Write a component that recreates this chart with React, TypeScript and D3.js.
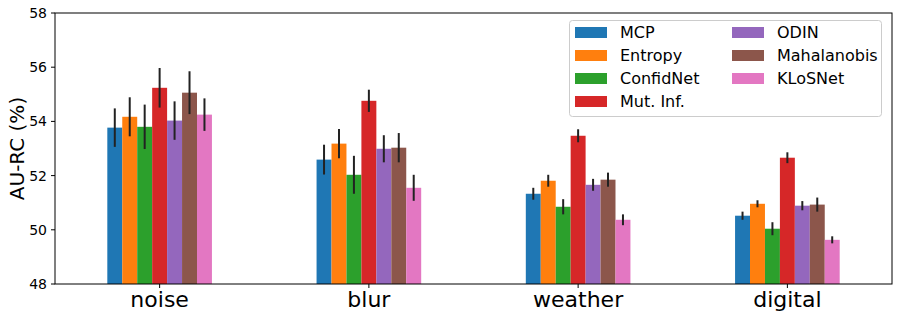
import React from "react";
import * as d3 from "d3";

const categories = ["noise", "blur", "weather", "digital"];
const methods = ["MCP", "Entropy", "ConfidNet", "Mut. Inf.", "ODIN", "Mahalanobis", "KLoSNet"];
const colors = ["#1f77b4", "#ff7f0e", "#2ca02c", "#d62728", "#9467bd", "#8c564b", "#e377c2"];

// mean AU-RC per method, one value per category
const mcp = [53.77, 52.59, 51.33, 50.52];
const entropy = [54.17, 53.18, 51.81, 50.96];
const confidnet = [53.8, 52.03, 50.85, 50.04];
const mutInf = [55.24, 54.76, 53.47, 52.66];
const odin = [54.03, 52.99, 51.66, 50.89];
const mahalanobis = [55.06, 53.03, 51.85, 50.93];
const klosnet = [54.25, 51.55, 50.37, 49.63];

// std errors
const mcpErr = [0.71, 0.55, 0.22, 0.15];
const entropyErr = [0.72, 0.54, 0.22, 0.13];
const confidnetErr = [0.82, 0.7, 0.28, 0.24];
const mutInfErr = [0.73, 0.41, 0.24, 0.2];
const odinErr = [0.71, 0.5, 0.22, 0.17];
const mahalanobisErr = [0.79, 0.54, 0.26, 0.26];
const klosnetErr = [0.6, 0.48, 0.2, 0.13];

const yTicks = [48, 50, 52, 54, 56, 58];

const means = [mcp, entropy, confidnet, mutInf, odin, mahalanobis, klosnet];
const errs = [mcpErr, entropyErr, confidnetErr, mutInfErr, odinErr, mahalanobisErr, klosnetErr];

const W = 899;
const H = 318;
const m = { left: 55, right: 7, top: 13, bottom: 34 };
const font = "'DejaVu Sans', sans-serif";

export default function App() {
  const x = d3
    .scaleBand<string>()
    .domain(categories)
    .range([m.left, W - m.right])
    .padding(0);
  const y = d3.scaleLinear().domain([48, 58]).range([H - m.bottom, m.top]);
  const barW = (x.step() * 0.5) / methods.length;
  const cx = (c: string) => (x(c) as number) + x.bandwidth() / 2;

  return (
    <svg
      width={W}
      height={H}
      style={{ position: "absolute", left: 0, top: 0, background: "#fff" }}
      fontFamily={font}
    >
      {means.map((series, i) =>
        series.map((v, j) => {
          const c = categories[j];
          const bx = cx(c) + (i - (methods.length - 1) / 2) * barW;
          return (
            <g key={`${i}-${j}`}>
              <rect
                x={bx - barW / 2}
                y={y(v)}
                width={barW}
                height={y(48) - y(v)}
                fill={colors[i]}
              />
              <line
                x1={bx}
                x2={bx}
                y1={y(v + errs[i][j])}
                y2={y(v - errs[i][j])}
                stroke="#222"
                strokeWidth={2}
              />
            </g>
          );
        })
      )}

      {/* frame */}
      <rect
        x={m.left}
        y={m.top}
        width={W - m.left - m.right}
        height={H - m.top - m.bottom}
        fill="none"
        stroke="#000"
        strokeWidth={1}
      />

      {/* y axis */}
      {yTicks.map((t) => (
        <g key={t}>
          <line x1={m.left - 4} x2={m.left} y1={y(t)} y2={y(t)} stroke="#000" />
          <text
            x={m.left - 8}
            y={y(t)}
            dy="0.35em"
            textAnchor="end"
            fontSize={14}
            fill="#000"
          >
            {t}
          </text>
        </g>
      ))}
      <text
        transform={`translate(17,${(m.top + H - m.bottom) / 2}) rotate(-90)`}
        textAnchor="middle"
        dy="0.35em"
        fontSize={20}
      >
        AU-RC (%)
      </text>

      {/* x axis */}
      {categories.map((c) => (
        <g key={c}>
          <line x1={cx(c)} x2={cx(c)} y1={H - m.bottom} y2={H - m.bottom + 4} stroke="#000" />
          <text x={cx(c)} y={H - m.bottom + 23} textAnchor="middle" fontSize={22}>
            {c}
          </text>
        </g>
      ))}

      {/* legend */}
      <g>
        <rect
          x={569.5}
          y={20.5}
          width={312}
          height={96}
          rx={3}
          fill="#fff"
          fillOpacity={0.8}
          stroke="#ccc"
        />
        {methods.map((name, i) => {
          const col = Math.floor(i / 4);
          const row = i % 4;
          const lx = 575 + col * 157;
          const ly = 32.5 + row * 23;
          return (
            <g key={name}>
              <rect x={lx} y={ly - 5.5} width={32} height={11} fill={colors[i]} />
              <text x={lx + 45} y={ly} dy="0.35em" fontSize={16}>
                {name}
              </text>
            </g>
          );
        })}
      </g>
    </svg>
  );
}
